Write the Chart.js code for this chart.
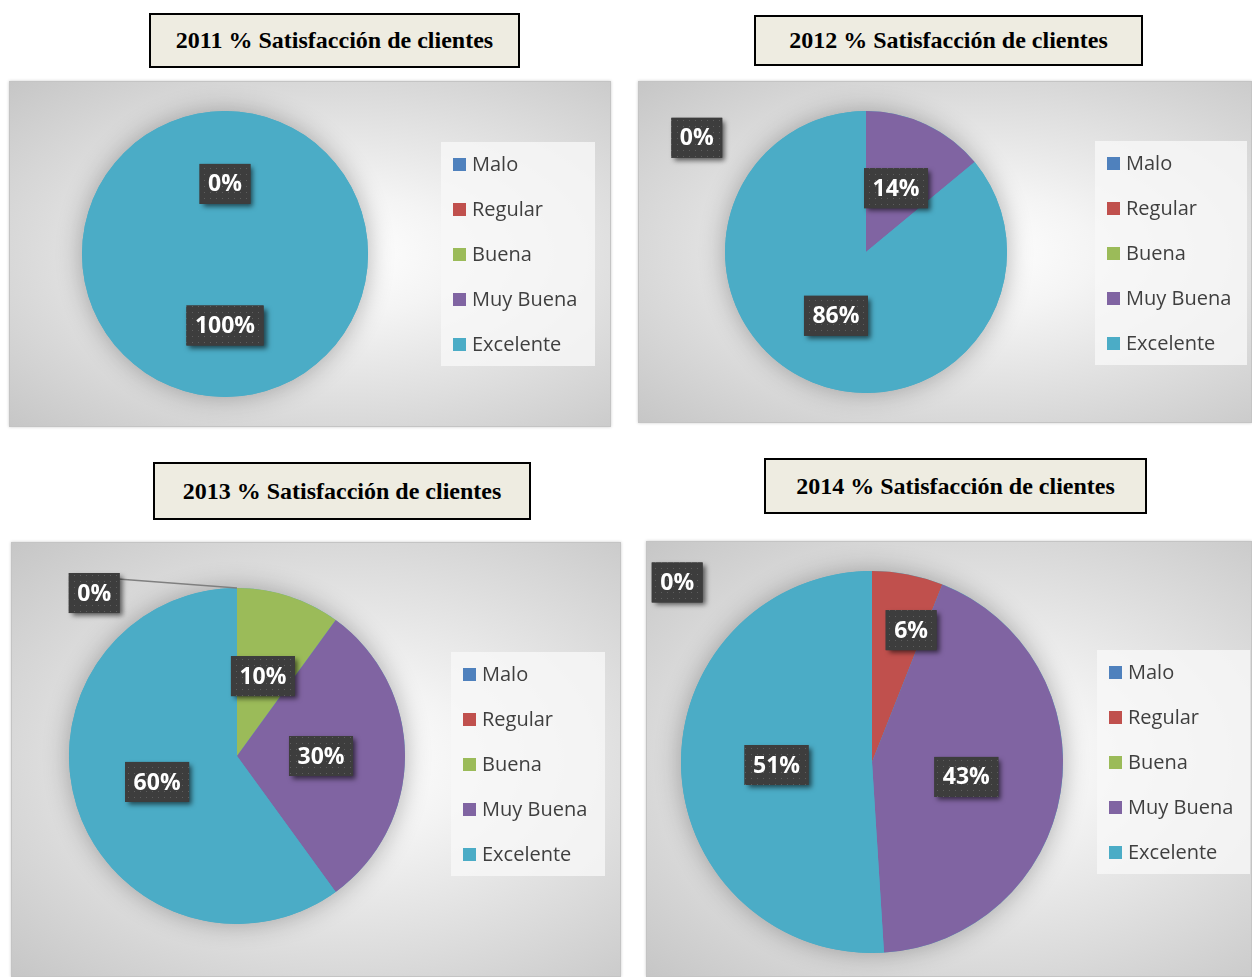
<!DOCTYPE html>
<html>
<head>
<meta charset="utf-8">
<script src="https://cdn.jsdelivr.net/npm/chart.js@4.4.1/dist/chart.umd.min.js"></script>
<style>
  body { margin: 0; background: #fff; width: 1252px; height: 977px; position: relative; overflow: hidden; }
  .title {
    position: absolute; box-sizing: border-box; border: 2px solid #000; background: #eeece1;
    font: bold 24px "Liberation Serif", "Times New Roman", serif; color: #000;
    display: flex; align-items: center; justify-content: center;
  }
  .panel {
    position: absolute;
    background: radial-gradient(ellipse at 55% 50%, #ffffff 0%, #f4f4f4 25%, #c6c6c6 100%);
    box-shadow: inset 0 0 0 1px #c4c4c4, 0 0 3px rgba(0, 0, 0, 0.2);
  }
  .panel canvas { display: block; }
</style>
</head>
<body>
<script>
const categories = ["Malo", "Regular", "Buena", "Muy Buena", "Excelente"];
const colors = ["#4F81BD", "#C0504D", "#9BBB59", "#8064A2", "#4BACC6"];
const years = ["2011", "2012", "2013", "2014"];
const values2011 = [0, 0, 0, 0, 100];
const values2012 = [0, 0, 0, 14, 86];
const values2013 = [0, 0, 10, 30, 60];
const values2014 = [0, 6, 0, 43, 51];
const seriesByYear = [values2011, values2012, values2013, values2014];

// layout of each block (title box, panel, pie padding, legend box)
const layouts = [
  { title: [149, 13, 371, 55], panel: [9, 81, 602, 346], pad: { left: 73, right: 243, top: 30, bottom: 30 },
    legend: [432, 61, 154, 224], zero: null, leader: false },
  { title: [754, 15, 389, 51], panel: [638, 81, 614, 342], pad: { left: 87, right: 245, top: 30, bottom: 30 },
    legend: [457, 60, 152, 224], zero: [-1.2, -0.81], leader: false },
  { title: [153, 462, 378, 58], panel: [11, 542, 610, 435], pad: { left: 58, right: 216, top: 46, bottom: 53 },
    legend: [440, 110, 154, 224], zero: [-0.85, -0.97], leader: true },
  { title: [764, 458, 383, 56], panel: [646, 541, 606, 436], pad: { left: 35, right: 189, top: 30, bottom: 24 },
    legend: [451, 109, 153, 224], zero: [-1.02, -0.94], leader: false },
];

let dotPattern = null;
function getPattern(ctx) {
  if (dotPattern) return dotPattern;
  const c = document.createElement("canvas");
  c.width = 6; c.height = 6;
  const p = c.getContext("2d");
  p.fillStyle = "#3d3d3d";
  p.fillRect(0, 0, 6, 6);
  p.fillStyle = "#5e5e5e";
  p.fillRect(3, 3, 1, 1);
  dotPattern = ctx.createPattern(c, "repeat");
  return dotPattern;
}

function drawTag(ctx, text, x, y) {
  ctx.font = "bold 23px 'Open Sans', sans-serif";
  const w = ctx.measureText(text).width + 17;
  const h = 40;
  ctx.save();
  ctx.shadowColor = "rgba(0,0,0,0.6)";
  ctx.shadowBlur = 5;
  ctx.shadowOffsetX = 3;
  ctx.shadowOffsetY = 3;
  ctx.fillStyle = "#3d3d3d";
  ctx.fillRect(x - w / 2, y - h / 2, w, h);
  ctx.restore();
  ctx.fillStyle = getPattern(ctx);
  ctx.fillRect(x - w / 2, y - h / 2, w, h);
  ctx.fillStyle = "#ffffff";
  ctx.textAlign = "center";
  ctx.textBaseline = "middle";
  ctx.fillText(text, x, y + 1);
}

const pieDecor = {
  id: "pieDecor",
  beforeDatasetsDraw(chart) {
    const arc = chart.getDatasetMeta(0).data[0];
    const ctx = chart.ctx;
    ctx.save();
    ctx.shadowColor = "rgba(0,0,0,0.3)";
    ctx.shadowBlur = 26;
    ctx.fillStyle = "#4BACC6";
    ctx.beginPath();
    ctx.arc(arc.x, arc.y, arc.outerRadius, 0, Math.PI * 2);
    ctx.fill();
    ctx.restore();
  },
  afterDatasetsDraw(chart, args, opts) {
    const ctx = chart.ctx;
    const values = chart.data.datasets[0].data;
    const total = values.reduce((a, b) => a + b, 0);
    const arcs = chart.getDatasetMeta(0).data;
    const cx = arcs[0].x, cy = arcs[0].y, R = arcs[0].outerRadius;
    ctx.save();
    // zero-value label (shown once)
    if (values.some(v => v === 0)) {
      let zx, zy;
      if (opts.zero) {
        zx = cx + opts.zero[0] * R;
        zy = cy + opts.zero[1] * R;
      } else {
        zx = cx;
        zy = cy - 0.49 * R;
      }
      if (opts.leader) {
        ctx.strokeStyle = "#7f7f7f";
        ctx.lineWidth = 1.5;
        ctx.beginPath();
        ctx.moveTo(zx + 24, zy - 14);
        ctx.lineTo(cx, cy - R);
        ctx.stroke();
      }
      drawTag(ctx, "0%", zx, zy);
    }
    arcs.forEach((arc, i) => {
      const v = values[i];
      if (!v) return;
      const share = v / total;
      let mid = (arc.startAngle + arc.endAngle) / 2;
      let rf = 0.5;
      if (share < 0.08) {
        // best-fit: small slices pushed outward and away from the start line
        rf = 0.72;
        mid += 0.1;
      }
      const x = cx + Math.cos(mid) * R * rf;
      const y = cy + Math.sin(mid) * R * rf;
      drawTag(ctx, Math.round(share * 100) + "%", x, y);
    });
    ctx.restore();
  },
  afterDraw(chart, args, opts) {
    const ctx = chart.ctx;
    const [lx, ly, lw, lh] = opts.legend;
    ctx.save();
    ctx.fillStyle = "rgba(248,248,248,0.8)";
    ctx.fillRect(lx, ly, lw, lh);
    ctx.font = "20px 'Open Sans', sans-serif";
    ctx.textBaseline = "middle";
    ctx.textAlign = "left";
    chart.data.labels.forEach((lab, i) => {
      const y = ly + 23 + i * 45;
      ctx.fillStyle = chart.data.datasets[0].backgroundColor[i];
      ctx.fillRect(lx + 12, y - 7, 13, 13);
      ctx.fillStyle = "#3f3f3f";
      ctx.fillText(lab, lx + 31, y);
    });
    ctx.restore();
  }
};

years.forEach((year, k) => {
  const L = layouts[k];
  const t = document.createElement("div");
  t.className = "title";
  Object.assign(t.style, { left: L.title[0] + "px", top: L.title[1] + "px", width: L.title[2] + "px", height: L.title[3] + "px" });
  t.textContent = year + " % Satisfacción de clientes";
  document.body.appendChild(t);

  const p = document.createElement("div");
  p.className = "panel";
  Object.assign(p.style, { left: L.panel[0] + "px", top: L.panel[1] + "px", width: L.panel[2] + "px", height: L.panel[3] + "px" });
  const canvas = document.createElement("canvas");
  canvas.width = L.panel[2];
  canvas.height = L.panel[3];
  p.appendChild(canvas);
  document.body.appendChild(p);

  new Chart(canvas.getContext("2d"), {
    type: "pie",
    data: {
      labels: categories,
      datasets: [{ data: seriesByYear[k], backgroundColor: colors, borderWidth: 0 }],
    },
    options: {
      responsive: false,
      animation: false,
      layout: { padding: L.pad },
      plugins: {
        legend: { display: false },
        tooltip: { enabled: false },
        pieDecor: { legend: L.legend, zero: L.zero, leader: L.leader },
      },
    },
    plugins: [pieDecor],
  });
});
</script>
</body>
</html>
